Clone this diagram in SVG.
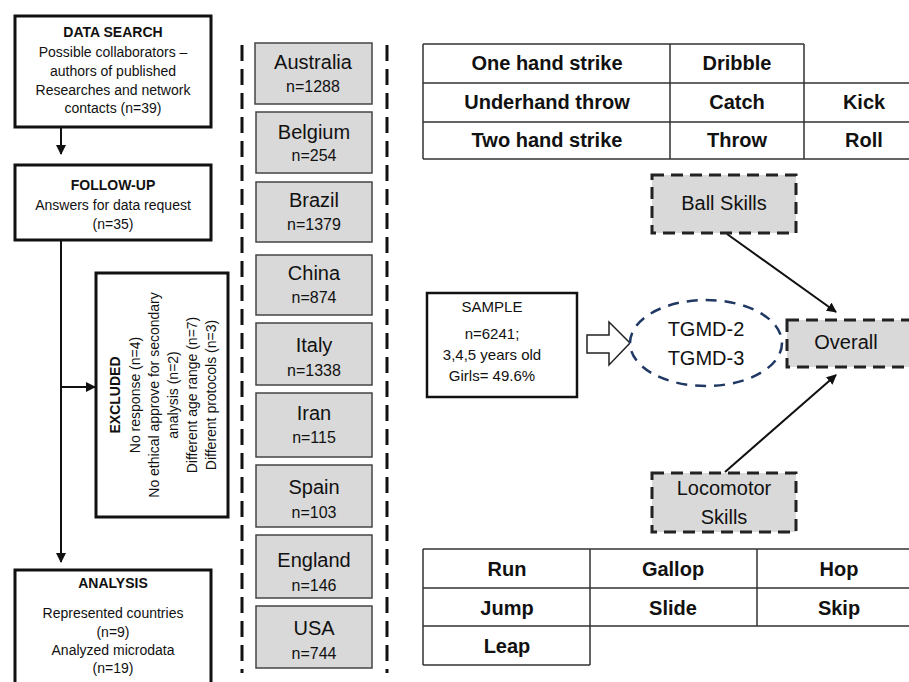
<svg xmlns="http://www.w3.org/2000/svg" width="909" height="682" viewBox="0 0 909 682">
<style>
text{font-family:"Liberation Sans",Arial,sans-serif;fill:#111;text-anchor:middle;dominant-baseline:central}
.fb{fill:#fff;stroke:#111;stroke-width:3}
.h{font-weight:bold;font-size:14px}
.t{font-size:14px}
.cb{fill:#d9d9d9;stroke:#444;stroke-width:1.5}
.cn{font-size:20px}
.cs{font-size:16px}
.sep{stroke:#111;stroke-width:3;stroke-dasharray:16 8;fill:none}
.tl{stroke:#333;stroke-width:1.5;fill:none}
.tb{font-weight:bold;font-size:20px}
.db{fill:#d9d9d9;stroke:#222;stroke-width:3;stroke-dasharray:12 7}
.ln{stroke:#111;stroke-width:2;fill:none}
.m{font-size:20px}
</style>
<defs>
<marker id="ah" viewBox="0 0 10 10" refX="9" refY="5" markerWidth="5" markerHeight="5" orient="auto" markerUnits="strokeWidth">
<path d="M0,0 L10,5 L0,10 z" fill="#111"/>
</marker>
</defs>
<rect width="909" height="682" fill="#fff"/>

<g id="connectors">
<line class="ln" x1="61" y1="127" x2="61" y2="154" marker-end="url(#ah)"/>
<line class="ln" x1="61" y1="240" x2="61" y2="562" marker-end="url(#ah)"/>
<line class="ln" x1="61" y1="387" x2="95" y2="387" marker-end="url(#ah)"/>
<line class="ln" x1="727" y1="234" x2="836" y2="312" marker-end="url(#ah)"/>
<line class="ln" x1="725" y1="472" x2="836" y2="375" marker-end="url(#ah)"/>
<path d="M587,335 L609,335 L609,322 L630,343 L609,365 L609,353 L587,353 Z" fill="#fff" stroke="#222" stroke-width="1.5"/>
</g>

<g id="data-search">
<rect class="fb" x="15" y="16" width="196" height="111"/>
<text class="h" x="113" y="32">DATA SEARCH</text>
<text class="t" x="113" y="52">Possible collaborators –</text>
<text class="t" x="113" y="71">authors of published</text>
<text class="t" x="113" y="90">Researches and network</text>
<text class="t" x="113" y="108">contacts (n=39)</text>
</g>

<g id="follow-up">
<rect class="fb" x="15" y="165" width="196" height="75"/>
<text class="h" x="113" y="185">FOLLOW-UP</text>
<text class="t" x="113" y="205">Answers for data request</text>
<text class="t" x="113" y="224">(n=35)</text>
</g>

<g id="excluded">
<rect class="fb" x="96" y="273" width="132" height="244"/>
<g transform="translate(163,395) rotate(-90)">
<text class="h" x="0" y="-48">EXCLUDED</text>
<text class="t" x="0" y="-28">No response (n=4)</text>
<text class="t" x="0" y="-9">No ethical approve for secondary</text>
<text class="t" x="0" y="10">analysis (n=2)</text>
<text class="t" x="0" y="29">Different age range (n=7)</text>
<text class="t" x="0" y="48">Different protocols (n=3)</text>
</g>
</g>

<g id="analysis">
<rect class="fb" x="15" y="570" width="196" height="120"/>
<text class="h" x="113" y="583">ANALYSIS</text>
<text class="t" x="113" y="613">Represented countries</text>
<text class="t" x="113" y="632">(n=9)</text>
<text class="t" x="113" y="650">Analyzed microdata</text>
<text class="t" x="113" y="668">(n=19)</text>
</g>

<g id="separators">
<line class="sep" x1="242" y1="45" x2="242" y2="673"/>
<line class="sep" x1="387" y1="45" x2="387" y2="673"/>
</g>

<g id="australia"><rect class="cb" x="255" y="43" width="117" height="61"/><text class="cn" x="313" y="62">Australia</text><text class="cs" x="313" y="86">n=1288</text></g>
<g id="belgium"><rect class="cb" x="256" y="112" width="116" height="61"/><text class="cn" x="314" y="132">Belgium</text><text class="cs" x="314" y="155">n=254</text></g>
<g id="brazil"><rect class="cb" x="256" y="182" width="116" height="60"/><text class="cn" x="314" y="200">Brazil</text><text class="cs" x="314" y="224">n=1379</text></g>
<g id="china"><rect class="cb" x="256" y="255" width="116" height="60"/><text class="cn" x="314" y="273">China</text><text class="cs" x="314" y="297">n=874</text></g>
<g id="italy"><rect class="cb" x="256" y="323" width="116" height="62"/><text class="cn" x="314" y="345">Italy</text><text class="cs" x="314" y="370">n=1338</text></g>
<g id="iran"><rect class="cb" x="256" y="393" width="116" height="64"/><text class="cn" x="314" y="413">Iran</text><text class="cs" x="314" y="437">n=115</text></g>
<g id="spain"><rect class="cb" x="256" y="465" width="116" height="62"/><text class="cn" x="314" y="487">Spain</text><text class="cs" x="314" y="512">n=103</text></g>
<g id="england"><rect class="cb" x="256" y="535" width="116" height="63"/><text class="cn" x="314" y="560">England</text><text class="cs" x="314" y="585">n=146</text></g>
<g id="usa"><rect class="cb" x="256" y="606" width="116" height="62"/><text class="cn" x="314" y="628">USA</text><text class="cs" x="314" y="653">n=744</text></g>

<g id="ball-table">
<path class="tl" d="M423,44 L804,44 M423,83 L909,83 M423,122 L909,122 M423,159 L909,159 M423,44 L423,159 M670,44 L670,159 M804,44 L804,159"/>
<text class="tb" x="547" y="63">One hand strike</text>
<text class="tb" x="737" y="63">Dribble</text>
<text class="tb" x="547" y="102">Underhand throw</text>
<text class="tb" x="737" y="102">Catch</text>
<text class="tb" x="864" y="102">Kick</text>
<text class="tb" x="547" y="140">Two hand strike</text>
<text class="tb" x="737" y="140">Throw</text>
<text class="tb" x="864" y="140">Roll</text>
</g>

<g id="ball-skills">
<rect class="db" x="652" y="175" width="144" height="58"/>
<text class="m" x="724" y="203">Ball Skills</text>
</g>

<g id="overall">
<rect class="db" x="787" y="320" width="130" height="47"/>
<text class="m" x="846" y="342">Overall</text>
</g>

<g id="locomotor-skills">
<rect class="db" x="652" y="473" width="144" height="59"/>
<text class="m" x="724" y="488">Locomotor</text>
<text class="m" x="724" y="517">Skills</text>
</g>

<g id="tgmd">
<ellipse cx="706" cy="343" rx="76" ry="43" fill="#fff" stroke="#1f3864" stroke-width="2.5" stroke-dasharray="11 8"/>
<text class="m" x="706" y="329">TGMD-2</text>
<text class="m" x="706" y="358">TGMD-3</text>
</g>

<g id="sample">
<rect x="427" y="293" width="150" height="104" fill="#fff" stroke="#111" stroke-width="2.5"/>
<text x="492" y="306" font-size="15">SAMPLE</text>
<text x="492" y="333" font-size="15">n=6241;</text>
<text x="492" y="354" font-size="15">3,4,5 years old</text>
<text x="492" y="375" font-size="15">Girls= 49.6%</text>
</g>

<g id="locomotor-table">
<path class="tl" d="M423,549 L909,549 M423,588 L909,588 M423,626 L909,626 M423,665 L590,665 M423,549 L423,665 M590,549 L590,665 M757,549 L757,626"/>
<text class="tb" x="507" y="569">Run</text>
<text class="tb" x="673" y="569">Gallop</text>
<text class="tb" x="839" y="569">Hop</text>
<text class="tb" x="507" y="608">Jump</text>
<text class="tb" x="673" y="608">Slide</text>
<text class="tb" x="839" y="608">Skip</text>
<text class="tb" x="507" y="646">Leap</text>
</g>
</svg>
